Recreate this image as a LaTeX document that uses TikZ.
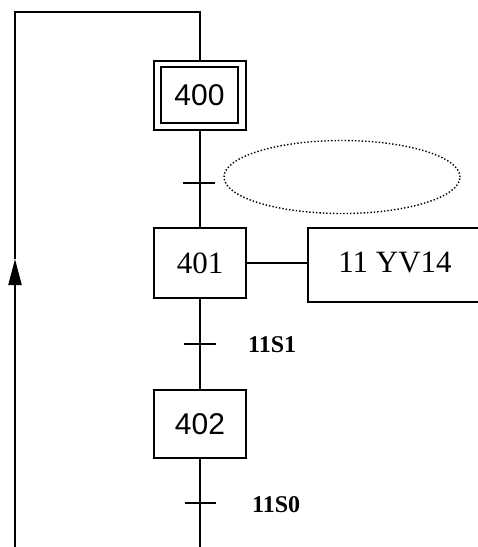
\documentclass[tikz,border=0pt]{standalone}
\usepackage{fontspec}
\setmainfont{Liberation Serif}
\newfontfamily\arialf{Liberation Sans}
\usetikzlibrary{arrows.meta,shapes.geometric}
\begin{document}
\begin{tikzpicture}[x=1pt,y=-1pt,line width=2.2pt,
  stepbox/.style={draw,rectangle,minimum width=92pt,minimum height=70pt,inner sep=0pt},
  sanslbl/.style={font=\arialf\fontsize{30}{32}\selectfont},
  seriflbl/.style={font=\fontsize{31}{33}\selectfont},
  condlbl/.style={font=\bfseries\fontsize{24}{26}\selectfont,anchor=west,inner sep=0pt},
  tick/.style={line width=2.2pt}]
\useasboundingbox (0,0) rectangle (478,547);
% steps
\node[stepbox,minimum width=92pt,minimum height=69pt] (s400) at (200,95.5) {};
\node[stepbox,minimum width=77pt,minimum height=56pt,sanslbl] (s400i) at (199.5,95) {400};
\node[stepbox,seriflbl] (s401) at (200,263) {401};
\node[stepbox,minimum height=68pt,sanslbl] (s402) at (200,424) {402};
% action
\node[draw,rectangle,minimum width=184pt,minimum height=74pt,inner sep=0pt] (act) at (400,265) {};
\node[seriflbl,inner sep=0pt] (acttxt) at (395,262) {11 YV14};
% receptivity ellipse
\node[draw,ellipse,dotted,line width=1.4pt,minimum width=236pt,minimum height=73pt] (cond) at (342,177) {};
% transitions
\coordinate (t1) at (s400.south |- 0,183);
\coordinate (t2) at (s401.south |- 0,344);
\coordinate (t3) at (s402.south |- 0,503);
\coordinate (bot) at (s402.south |- 0,547);
\coordinate (lb) at (15,547);
\coordinate (la) at (15,259);
\coordinate (lt) at (15,12);
\coordinate (rt) at (s400.north |- 0,12);
\draw (s400.south) -- (t1) -- (s401.north);
\draw (s401.south) -- (t2) -- (s402.north);
\draw (s402.south) -- (t3) -- (bot);
\draw (s401.east) -- (s401.east -| act.west);
\draw[tick] ([xshift=-17pt]t1) -- ([xshift=15pt]t1);
\draw[tick] ([xshift=-16pt]t2) -- ([xshift=16pt]t2);
\draw[tick] ([xshift=-15pt]t3) -- ([xshift=16pt]t3);
\node[condlbl] (c1) at (247,345) {11S1};
\node[condlbl] (c0) at (251,505) {11S0};
% loop back
\draw[-{Triangle[length=26pt,width=13pt]}] (lb) -- (la);
\draw (la) -- (lt) -- (rt) -- (s400.north);
\end{tikzpicture}
\end{document}
